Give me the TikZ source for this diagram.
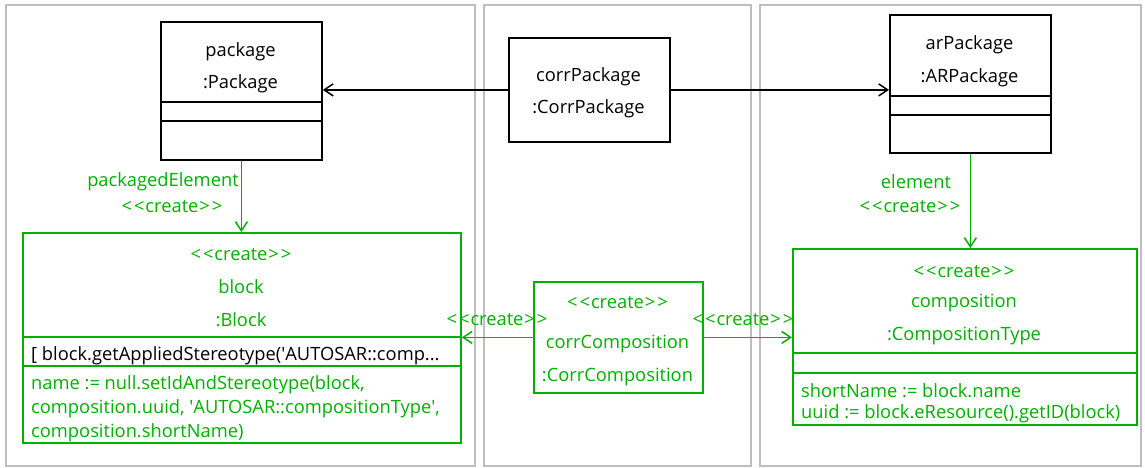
\documentclass[tikz,border=0pt]{standalone}
\usepackage{fontspec}
\setmainfont{Open Sans}
\usetikzlibrary{arrows.meta}
\definecolor{qvt}{RGB}{0,176,0}
\definecolor{frame}{RGB}{190,190,190}
\newcommand{\crt}{\textless\kern2pt\textless\kern1pt create\kern1pt\textgreater\kern2pt\textgreater}
\newcommand{\q}{\textquotesingle}

\begin{document}
\begin{tikzpicture}[x=1pt,y=-1pt,
  font=\fontsize{18.3}{22}\selectfont,
  panel/.style={draw=frame, line width=2pt},
  obj/.style={draw, line width=1.8pt, anchor=north west, inner sep=0pt},
  newobj/.style={obj, draw=qvt},
  sep/.style={line width=1.8pt},
  txt/.style={inner sep=0pt},
  gtxt/.style={txt, text=qvt},
  ltxt/.style={txt, anchor=west},
  link/.style={line width=1.5pt, -{Straight Barb[length=9pt,width=12pt,line width=1.5pt]}},
  glink/.style={link, draw=qvt}
]
\useasboundingbox (0,0) rectangle (1145,468);

% domain panels
\draw[panel] (6,5) rectangle (475,466);
\draw[panel] (484,5) rectangle (751,466);
\draw[panel] (760,5) rectangle (1141,466);

% source package
\node[obj, minimum width=161pt, minimum height=138pt] (pkg) at (160,21) {};
\draw[sep] (160,102) -- (321,102);
\draw[sep] (160,121) -- (321,121);
\node[txt] (pkgname) at (240.5,52) {package};
\node[txt] (pkgtype) at (240.5,84) {:Package};

% correspondence package
\node[obj, minimum width=161pt, minimum height=104pt] (corrPkg) at (508,37) {};
\node[txt] (corrPkgname) at (588.5,77) {corrPackage};
\node[txt] (corrPkgtype) at (588.5,109) {:CorrPackage};

% target package
\node[obj, minimum width=161pt, minimum height=138pt] (arPkg) at (889,14) {};
\draw[sep] (889,96) -- (1050,96);
\draw[sep] (889,115) -- (1050,115);
\node[txt] (arPkgname) at (969.5,45) {arPackage};
\node[txt] (arPkgtype) at (969.5,78) {:ARPackage};

% created block
\node[newobj, minimum width=438pt, minimum height=210pt] (block) at (22,232) {};
\draw[sep, qvt] (22,337) -- (460,337);
\draw[sep, qvt] (22,366) -- (460,366);
\node[gtxt] (blockst) at (241,255) {\crt};
\node[gtxt] (blockname) at (241,287) {block};
\node[gtxt] (blocktype) at (241,320) {:Block};
\node[ltxt] (guard) at (31,356) {[ block.getAppliedStereotype(\q AUTOSAR::comp...};
\node[ltxt, text=qvt] (as1) at (31,385) {name := null.setIdAndStereotype(block,};
\node[ltxt, text=qvt] (as2) at (31,409) {composition.uuid, \q AUTOSAR::compositionType\q ,};
\node[ltxt, text=qvt] (as3) at (31,433) {composition.shortName)};

% created correspondence
\node[newobj, minimum width=169pt, minimum height=111pt] (corrComp) at (533,281) {};
\node[gtxt] (corrCompst) at (617.5,303) {\crt};
\node[gtxt] (corrCompname) at (617.5,344) {corrComposition};
\node[gtxt] (corrComptype) at (617.5,377) {:CorrComposition};

% created composition
\node[newobj, minimum width=344pt, minimum height=176pt] (comp) at (792,248) {};
\draw[sep, qvt] (792,353) -- (1136,353);
\draw[sep, qvt] (792,373) -- (1136,373);
\node[gtxt] (compst) at (964,272) {\crt};
\node[gtxt] (compname) at (964,303) {composition};
\node[gtxt] (comptype) at (964,336) {:CompositionType};
\node[ltxt, text=qvt] (cs1) at (801,391) {shortName := block.name};
\node[ltxt, text=qvt] (cs2) at (801,414) {uuid := block.eResource().getID(block)};

% links between existing objects
\draw[link] (corrPkg.west) -- (corrPkg.west -| pkg.east);
\draw[link] (corrPkg.east) -- (corrPkg.east -| arPkg.west);

% created links
\draw[glink] (pkg.south) -- (pkg.south |- block.north);
\node[gtxt] (pelabel) at (163,182) {packagedElement};
\node[gtxt] (pecreate) at (172,207) {\crt};

\draw[glink] (arPkg.south) -- (arPkg.south |- comp.north);
\node[gtxt] (ellabel) at (916,182) {element};
\node[gtxt] (elcreate) at (910,207) {\crt};

\draw[glink] (corrComp.west) -- (corrComp.west -| block.east);
\node[gtxt] (lcreate) at (497,320) {\crt};
\draw[glink] (corrComp.east) -- (corrComp.east -| comp.west);
\node[gtxt] (rcreate) at (743,320) {\crt};
\end{tikzpicture}
\end{document}
